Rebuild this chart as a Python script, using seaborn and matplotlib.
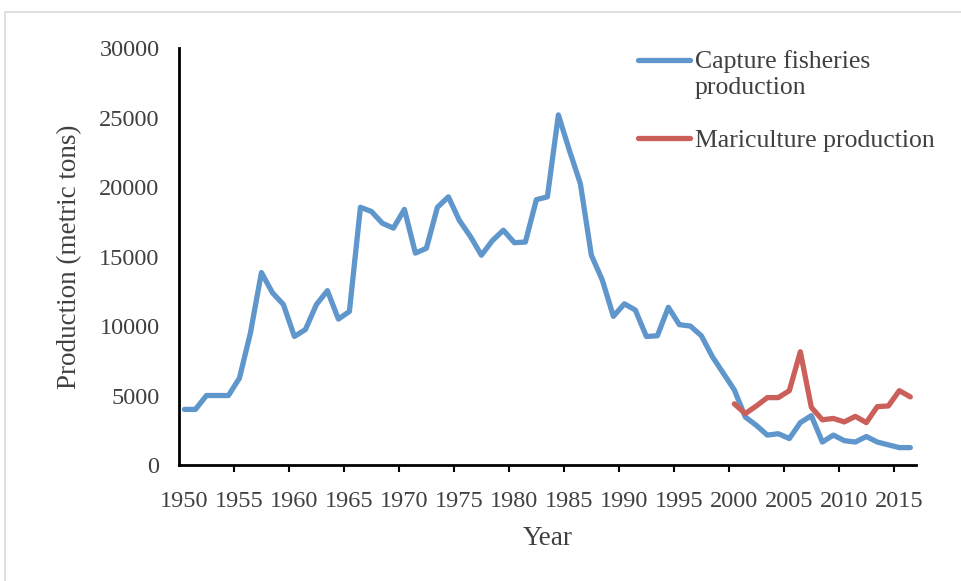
import numpy as np
import pandas as pd
import matplotlib
matplotlib.use('Agg')
import matplotlib.pyplot as plt
import seaborn as sns
from matplotlib.patches import Rectangle

# Données
years_capture = list(range(1950, 2017))
capture = [4000, 4000, 5000, 5000, 5000, 6250, 9500, 13850, 12400, 11550,
           9250, 9750, 11550, 12550, 10500, 11050, 18550, 18250, 17400, 17050,
           18400, 15250, 15600, 18550, 19300, 17600, 16450, 15100, 16150, 16900,
           16000, 16050, 19100, 19300, 25200, 22650, 20250, 15100, 13300, 10700,
           11600, 11150, 9250, 9300, 11350, 10100, 10000, 9300, 7800, 6600,
           5400, 3450, 2850, 2150, 2250, 1900, 3050, 3550, 1650, 2150,
           1750, 1650, 2050, 1650, 1450, 1250, 1250]
years_mari = list(range(2000, 2017))
mariculture = [4400, 3700, 4250, 4850, 4850, 5350, 8150, 4150, 3250, 3350,
               3100, 3500, 3050, 4200, 4250, 5350, 4900]

label_capture = 'Capture fisheries\nproduction'
label_mari = 'Mariculture production'

df = pd.concat([
    pd.DataFrame({'Year': years_capture, 'Production': capture, 'Series': label_capture}),
    pd.DataFrame({'Year': years_mari, 'Production': mariculture, 'Series': label_mari}),
], ignore_index=True)

sns.set_style('white')
plt.rcParams['font.family'] = ['Liberation Serif', 'DejaVu Serif']

fig = plt.figure(figsize=(9.62, 5.81), dpi=100)
ax = fig.add_axes([0.186, 0.1997, 0.766, 0.7173])

# cadre gris clair autour du graphique
fig.patches.append(Rectangle((5 / 962, -0.1), 1.2, 1.1 - 12 / 581, transform=fig.transFigure,
                             fill=False, edgecolor='#d9d9d9', linewidth=1.2))

sns.lineplot(data=df, x='Year', y='Production', hue='Series',
             palette=['#5F96CB', '#CB605B'], linewidth=3.8, ax=ax)

ax.set_xlim(1949.5, 2016.5)
ax.set_ylim(0, 30000)
ax.set_yticks(range(0, 30001, 5000))
ax.set_xticks(range(1950, 2016, 5))
ax.set_xticks(np.arange(1954.5, 2015, 5), minor=True)
ax.tick_params(axis='x', which='major', length=0, labelsize=17.5, pad=19, colors='#404040')
ax.tick_params(axis='x', which='minor', length=5, width=1.5, direction='out', color='black', bottom=True)
ax.tick_params(axis='y', length=5, width=1.5, direction='out', labelsize=17.5, colors='#404040', pad=9)
ax.tick_params(axis='y', color='black')

for s in ['top', 'right']:
    ax.spines[s].set_visible(False)
for s in ['left', 'bottom']:
    ax.spines[s].set_color('black')
    ax.spines[s].set_linewidth(2)

ax.set_xlabel('Year', fontsize=19.5, color='#404040', labelpad=10)
ax.set_ylabel('Production (metric tons)', fontsize=19.5, color='#404040', labelpad=12)

leg = ax.legend(title=None, frameon=False, fontsize=18.5, loc='upper left',
                bbox_to_anchor=(615 / 962, 1 - 27 / 581), bbox_transform=fig.transFigure,
                handlelength=2.0, handletextpad=0.2, labelspacing=1.2, labelcolor='#404040')
# la ligne de la première entrée est alignée sur la première ligne du texte
blue_handle = leg.get_lines()[0]
blue_handle.set_ydata(np.asarray(blue_handle.get_ydata()) + 10)

fig.savefig('out.png', dpi=100)
